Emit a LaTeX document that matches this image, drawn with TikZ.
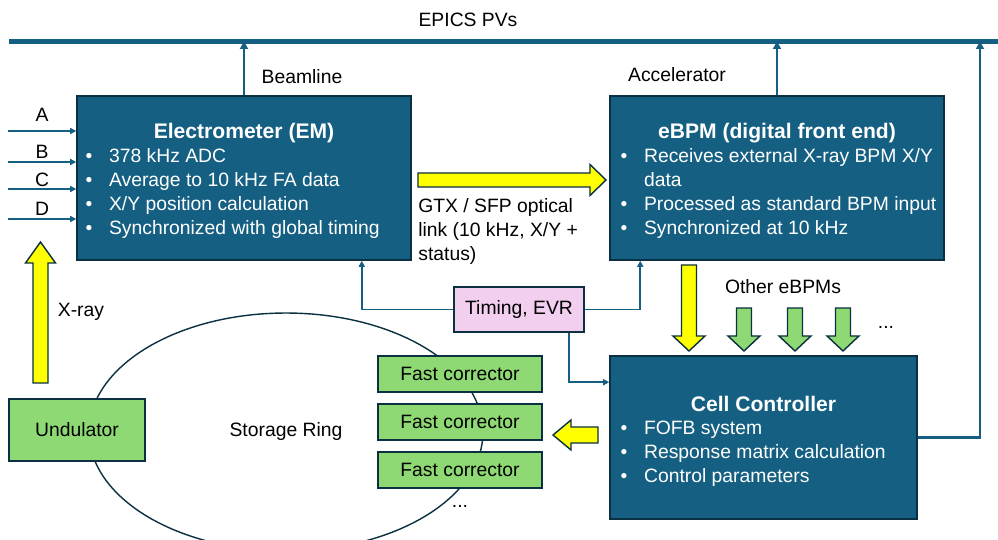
\documentclass[tikz,border=0pt]{standalone}
\usepackage{fontspec}
\setmainfont{Liberation Sans}
\usepackage{tikz}
\usetikzlibrary{arrows.meta, positioning, shapes.geometric, calc}
\definecolor{boxblue}{HTML}{156082}
\definecolor{edgenavy}{HTML}{0A3041}
\definecolor{boxgreen}{HTML}{8ED973}
\definecolor{boxpink}{HTML}{F2CEEF}
\definecolor{rayyellow}{HTML}{FFFF00}
\newcommand{\itm}{\makebox[0.47cm][l]{\textbullet}}
% block arrows: #1 axis pos, #2 tail, #3 shoulder, #4 tip, #5 half shaft, #6 half head, #7 fill
\newcommand{\fatv}[7]{\filldraw[fat, fill=#7] ({#1-#5},#2) -- ({#1-#5},#3) -- ({#1-#6},#3) -- (#1,#4) -- ({#1+#6},#3) -- ({#1+#5},#3) -- ({#1+#5},#2) -- cycle;}
\newcommand{\fath}[7]{\filldraw[fat, fill=#7] (#2,{#1-#5}) -- (#3,{#1-#5}) -- (#3,{#1-#6}) -- (#4,#1) -- (#3,{#1+#6}) -- (#3,{#1+#5}) -- (#2,{#1+#5}) -- cycle;}

\begin{document}
\begin{tikzpicture}[
    x=0.02cm, y=-0.02cm,
    unit/.style  ={rectangle, draw=edgenavy, fill=boxblue, line width=0.9pt, inner sep=0pt, minimum width=6.68cm, minimum height=3.28cm},
    utitle/.style={font=\fontsize{12}{14}\selectfont\bfseries, text=white, inner sep=0pt},
    ulist/.style ={anchor=west, align=left, font=\fontsize{11}{13.66}\selectfont, text=white, inner sep=0pt},
    part/.style  ={rectangle, draw=edgenavy, fill=boxgreen, line width=0.9pt, inner sep=0pt, font=\fontsize{11}{13}\selectfont},
    lbl/.style   ={font=\fontsize{11}{13}\selectfont, inner sep=0pt},
    sig/.style   ={draw=boxblue, line width=0.9pt, -{Triangle[length=1.2mm, width=1.2mm]}},
    tobus/.style ={draw=boxblue, line width=1.4pt, -{Triangle[length=1.5mm, width=1.6mm]}},
    fat/.style   ={draw=edgenavy, line width=0.8pt, line join=miter}
]
\useasboundingbox (0,0) rectangle (998,540);
% --- EPICS bus ---
\coordinate (bus-l) at (9,41.5);
\coordinate (bus-r) at (998,41.5);
\coordinate (bus-cc) at (980,41.5);
\draw[boxblue, line width=2.3pt] (bus-l) -- (bus-r);
\node[lbl] (epics) at (468,20) {EPICS PVs};

% --- storage ring and magnets ---
\node[ellipse, draw=edgenavy, line width=0.8pt, minimum width=7.88cm, minimum height=4.76cm, inner sep=0pt, font=\fontsize{11}{13}\selectfont] (ring) at (286,432) {Storage Ring};
\node[part, minimum width=2.72cm, minimum height=1.24cm] (und) at (77,430) {Undulator};
\node[part, minimum width=3.28cm, minimum height=0.72cm] (fc1) at (460,374) {Fast corrector};
\node[part, minimum width=3.28cm, minimum height=0.72cm] (fc2) at (460,422) {Fast corrector};
\node[part, minimum width=3.28cm, minimum height=0.72cm] (fc3) at (460,470) {Fast corrector};
\node[lbl] (fc-more) at (460,506) {...};

% --- electrometer ---
\node[unit] (em) at (244,178) {};
\node[utitle] (em-t) at ([yshift=-0.76cm]em.north) {Electrometer (EM)};
\node[ulist] (em-l) at ([xshift=0.18cm, yshift=-1.97cm]em.north west) {\itm 378 kHz ADC\\\itm Average to 10 kHz FA data\\\itm X/Y position calculation\\\itm Synchronized with global timing};
\node[lbl] (beamline) at (302,77) {Beamline};
\draw[tobus] (em.north) -- (em.north |- bus-l);
% inputs A..D
\foreach \y/\ly/\t in {131/115/A, 162/152/B, 189/180/C, 219/209/D}{
  \coordinate (src-\t) at (8,\y);
  \node[lbl] (in-\t) at (42,\ly) {\t};
  \draw[sig] (src-\t) -- (src-\t -| em.west);
}

% --- eBPM ---
\node[unit] (ebpm) at (777,178) {};
\node[utitle] (ebpm-t) at ([yshift=-0.76cm]ebpm.north) {eBPM (digital front end)};
\node[ulist] (ebpm-l) at ([xshift=0.22cm, yshift=-1.97cm]ebpm.north west) {\itm Receives external X-ray BPM X/Y\\\makebox[0.47cm]{}data\\\itm Processed as standard BPM input\\\itm Synchronized at 10 kHz};
\node[lbl] (accel) at (677,75) {Accelerator};
\draw[tobus] (ebpm.north) -- (ebpm.north |- bus-l);

% --- cell controller ---
\node[unit, minimum width=6.14cm, minimum height=3.26cm] (cc) at (763.5,437.5) {};
\node[utitle] (cc-t) at ([yshift=-0.97cm]cc.north) {Cell Controller};
\node[ulist] (cc-l) at ([xshift=0.22cm, yshift=-1.97cm]cc.north west) {\itm FOFB system\\\itm Response matrix calculation\\\itm Control parameters};
\draw[tobus] (cc.east) -| (bus-cc);

% --- timing ---
\node[rectangle, draw=edgenavy, fill=boxpink, line width=0.9pt, minimum width=2.6cm, minimum height=0.9cm, inner sep=0pt, font=\fontsize{11}{13}\selectfont] (evr) at (519,309.5) {Timing, EVR};
\draw[sig] (evr.west) -| ([xshift=-1cm]em.south east);
\draw[sig] (evr.east) -| ([xshift=0.62cm]ebpm.south west);
\draw[sig] ([xshift=-0.32cm]evr.south east) |- ([yshift=-0.54cm]cc.north west);

% --- block arrows ---
\fatv{40.5}{383}{263}{242}{7.5}{15}{rayyellow}
\node[lbl] (xray) at (81,312) {X-ray};
\fath{180}{418}{590}{606}{7}{15.5}{rayyellow}
\node[lbl, anchor=west, align=left, font=\fontsize{11}{13.66}\selectfont] (gtx) at (418,232) {GTX / SFP optical\\link (10 kHz, X/Y +\\status)};
\fatv{689}{265}{336}{351}{7.5}{16}{rayyellow}
\fath{435}{598}{571}{553}{8}{15}{rayyellow}
\node[lbl] (others) at (783,287) {Other eBPMs};
\foreach \x in {744,795,843}{
  \fatv{\x}{308}{336}{351}{7.5}{16}{boxgreen}
}
\node[lbl] (cc-more) at (886,327) {...};
\end{tikzpicture}
\end{document}
